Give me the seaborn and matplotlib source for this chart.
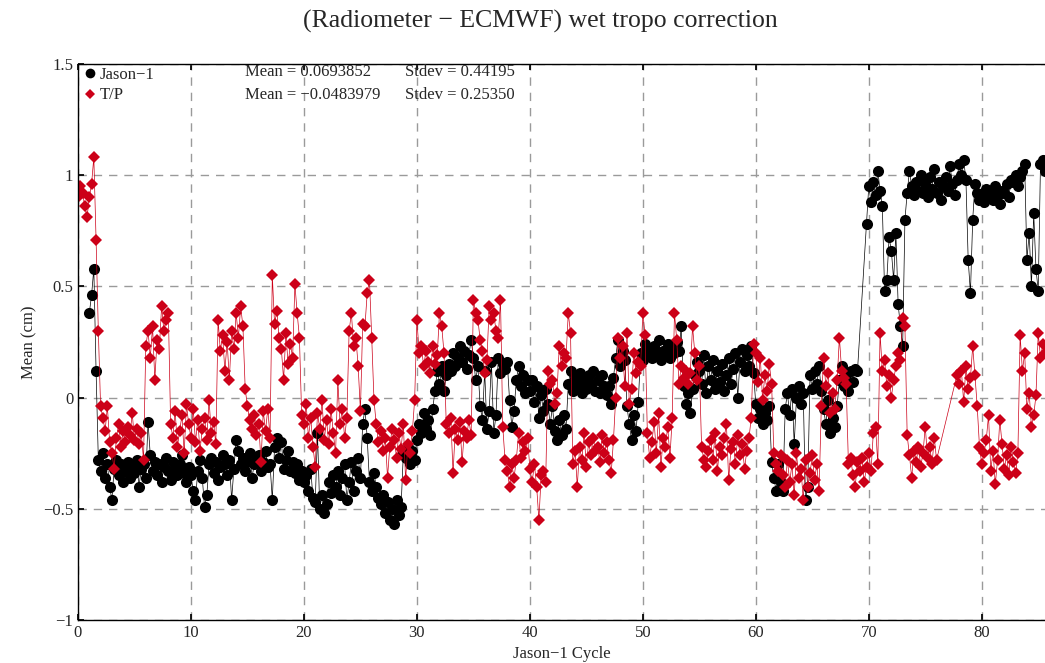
import numpy as np
import pandas as pd
import seaborn as sns
from matplotlib import pyplot as plt
from matplotlib.lines import Line2D
from matplotlib.ticker import MultipleLocator, FuncFormatter

# values, 5 samples per cycle (cycle + 0.0, 0.2, 0.4, 0.6, 0.8)
step = 0.2
jason_first_cycle = 1.0
jason_mean = [
    0.38, 0.46, 0.58, 0.12, -0.28,      # 1
    -0.33, -0.25, -0.36, -0.30, -0.40,  # 2
    -0.46, -0.32, -0.28, -0.35, -0.30,  # 3
    -0.38, -0.33, -0.29, -0.36, -0.31,  # 4
    -0.34, -0.28, -0.40, -0.32, -0.30,  # 5
    -0.36, -0.11, -0.26, -0.33, -0.29,  # 6
    -0.35, -0.30, -0.38, -0.31, -0.27,  # 7
    -0.33, -0.37, -0.29, -0.32, -0.35,  # 8
    -0.30, -0.26, -0.34, -0.38, -0.31,  # 9
    -0.35, -0.42, -0.46, -0.33, -0.28,  # 10
    -0.36, -0.49, -0.44, -0.30, -0.27,  # 11
    -0.34, -0.29, -0.37, -0.31, -0.26,  # 12
    -0.30, -0.35, -0.28, -0.46, -0.32,  # 13
    -0.19, -0.24, -0.30, -0.27, -0.33,  # 14
    -0.29, -0.25, -0.36, -0.30, -0.28,  # 15
    -0.26, -0.33, -0.29, -0.24, -0.31,  # 16
    -0.30, -0.46, -0.22, -0.18, -0.27,  # 17
    -0.20, -0.32, -0.28, -0.24, -0.33,  # 18
    -0.29, -0.34, -0.30, -0.37, -0.33,  # 19
    -0.38, -0.35, -0.42, -0.32, -0.45,  # 20
    -0.47, -0.16, -0.50, -0.44, -0.52,  # 21
    -0.48, -0.38, -0.43, -0.35, -0.40,  # 22
    -0.33, -0.44, -0.36, -0.30, -0.46,  # 23
    -0.38, -0.29, -0.42, -0.33, -0.27,  # 24
    -0.36, -0.12, -0.05, -0.18, -0.38,  # 25
    -0.42, -0.34, -0.40, -0.45, -0.48,  # 26
    -0.44, -0.52, -0.47, -0.55, -0.50,  # 27
    -0.57, -0.46, -0.53, -0.49, -0.25,  # 28
    -0.27, -0.22, -0.30, -0.24, -0.28,  # 29
    -0.19, -0.12, -0.16, -0.07, -0.14,  # 30
    -0.10, -0.17, -0.05, 0.03, 0.12,    # 31
    0.06, 0.14, 0.03, 0.10, 0.15,       # 32
    0.12, 0.20, 0.14, 0.18, 0.23,       # 33
    0.16, 0.21, 0.13, 0.19, 0.26,       # 34
    0.18, 0.08, 0.14, -0.04, -0.10,     # 35
    0.12, -0.14, -0.06, 0.16, -0.16,    # 36
    -0.08, 0.18, 0.11, 0.15, 0.13,      # 37
    0.16, -0.01, -0.13, -0.06, 0.08,    # 38
    0.14, 0.05, 0.10, 0.02, 0.08,       # 39
    0.03, 0.08, -0.02, 0.05, -0.09,     # 40
    0.01, -0.06, 0.04, -0.03, -0.12,    # 41
    -0.04, -0.15, -0.19, -0.10, -0.17,  # 42
    -0.08, -0.14, 0.06, 0.12, 0.03,     # 43
    0.09, 0.05, 0.11, 0.02, 0.07,       # 44
    0.04, 0.10, 0.06, 0.12, 0.03,       # 45
    0.08, 0.02, 0.10, 0.05, 0.01,       # 46
    0.05, -0.03, 0.09, 0.18, 0.26,      # 47
    0.14, 0.21, 0.17, -0.04, -0.12,     # 48
    -0.19, -0.08, -0.15, -0.02, 0.20,   # 49
    0.17, 0.24, 0.19, 0.22, 0.18,       # 50
    0.23, 0.20, 0.26, 0.17, 0.21,       # 51
    0.19, 0.24, 0.18, 0.22, 0.20,       # 52
    0.25, 0.21, 0.32, 0.05, -0.03,      # 53
    0.02, -0.07, 0.04, 0.10, 0.16,      # 54
    0.12, 0.06, 0.19, 0.02, 0.14,       # 55
    0.08, 0.17, 0.04, 0.12, 0.07,       # 56
    0.15, 0.03, 0.10, 0.18, 0.06,       # 57
    0.13, 0.20, 0.00, 0.16, 0.22,       # 58
    0.12, 0.19, 0.14, 0.23, 0.11,       # 59
    -0.03, -0.09, -0.05, -0.12, -0.07,  # 60
    -0.10, -0.04, -0.29, -0.36, -0.42,  # 61
    -0.30, -0.38, -0.42, -0.05, 0.02,   # 62
    -0.08, 0.04, -0.21, 0.00, 0.05,     # 63
    -0.03, 0.02, -0.46, -0.40, 0.10,    # 64
    0.04, 0.12, 0.06, 0.14, 0.03,       # 65
    -0.05, -0.12, -0.01, -0.16, -0.09,  # 66
    -0.13, -0.04, 0.08, 0.14, 0.05,     # 67
    0.10, 0.03, 0.12, 0.07, 0.13,       # 68
    0.12, np.nan, np.nan, np.nan, 0.78, # 69
    0.95, 0.88, 0.97, 0.91, 1.02,       # 70
    0.93, 0.86, 0.48, 0.53, 0.72,       # 71
    0.66, 0.53, 0.74, 0.42, 0.32,       # 72
    0.23, 0.80, 0.92, 1.02, 0.95,       # 73
    0.91, 0.97, 0.93, 1.00, 0.92,       # 74
    0.96, 0.90, 0.99, 0.94, 1.03,       # 75
    0.92, 0.97, 0.89, 0.95, 0.99,       # 76
    0.93, 1.04, 0.96, 0.91, 0.98,       # 77
    1.05, 1.00, 1.07, 0.98, 0.62,       # 78
    0.47, 0.80, 0.96, 0.92, 0.89,       # 79
    0.91, 0.88, 0.94, 0.90, 0.93,       # 80
    0.89, 0.95, 0.91, 0.87, 0.93,       # 81
    0.92, 0.96, 0.90, 0.98, 0.97,       # 82
    1.00, 0.95, 0.99, 1.02, 1.05,       # 83
    0.62, 0.74, 0.50, 0.83, 0.58,       # 84
    0.48, 1.05, 1.07, 1.02,             # 85
]

tp_first_cycle = 0.0
tp_mean = [
    0.90, 0.95, 0.92, 0.86, 0.81,       # 0
    0.90, 0.96, 1.08, 0.71, 0.30,       # 1
    -0.04, -0.09, -0.15, -0.04, -0.20,  # 2
    -0.25, -0.32, -0.18, -0.12, -0.22,  # 3
    -0.15, -0.20, -0.13, -0.17, -0.07,  # 4
    -0.19, -0.14, -0.21, -0.16, -0.28,  # 5
    0.23, 0.30, 0.18, 0.32, 0.08,       # 6
    0.26, 0.22, 0.41, 0.30, 0.35,       # 7
    0.38, -0.12, -0.18, -0.06, -0.22,   # 8
    -0.15, -0.08, -0.25, -0.03, -0.12,  # 9
    -0.18, -0.05, -0.20, -0.10, -0.24,  # 10
    -0.14, -0.09, -0.19, -0.01, -0.16,  # 11
    -0.11, -0.21, 0.35, 0.21, 0.28,     # 12
    0.12, 0.25, 0.08, 0.30, 0.22,       # 13
    0.38, 0.27, 0.41, 0.32, 0.04,       # 14
    -0.04, -0.10, -0.14, -0.08, -0.17,  # 15
    -0.12, -0.29, -0.06, -0.15, -0.05,  # 16
    -0.18, 0.55, 0.33, 0.39, 0.27,      # 17
    0.22, 0.08, 0.29, 0.15, 0.24,       # 18
    0.18, 0.51, 0.38, 0.27, -0.08,      # 19
    -0.12, -0.03, -0.18, -0.09, -0.22,  # 20
    -0.31, -0.07, -0.14, -0.01, -0.19,  # 21
    -0.10, -0.21, -0.05, -0.16, -0.25,  # 22
    0.08, -0.12, -0.05, -0.18, -0.09,   # 23
    0.30, 0.38, 0.23, 0.27, 0.14,       # 24
    -0.06, 0.33, 0.32, 0.47, 0.53,      # 25
    0.27, -0.01, -0.12, -0.20, -0.15,   # 26
    -0.24, -0.18, -0.36, -0.22, -0.14,  # 27
    -0.19, -0.27, -0.16, -0.23, -0.12,  # 28
    -0.37, -0.21, -0.25, -0.15, -0.01,  # 29
    0.35, 0.20, 0.23, 0.14, 0.21,       # 30
    0.16, 0.11, 0.23, 0.15, 0.19,       # 31
    0.38, 0.32, 0.20, -0.12, -0.16,     # 32
    -0.09, -0.34, -0.14, -0.19, -0.11,  # 33
    -0.29, -0.15, -0.18, -0.10, -0.17,  # 34
    0.44, 0.38, 0.35, 0.26, 0.21,       # 35
    0.11, 0.17, 0.41, 0.35, 0.38,       # 36
    0.30, 0.27, 0.44, -0.13, -0.28,     # 37
    -0.33, -0.40, -0.30, -0.36, -0.28,  # 38
    -0.16, -0.27, -0.20, -0.24, -0.18,  # 39
    -0.32, -0.38, -0.30, -0.40, -0.55,  # 40
    -0.35, -0.33, -0.38, 0.12, 0.06,    # 41
    0.08, -0.03, 0.02, 0.23, 0.14,      # 42
    0.20, 0.18, 0.38, 0.29, -0.30,      # 43
    -0.24, -0.40, -0.22, -0.28, -0.16,  # 44
    -0.31, -0.20, -0.26, -0.18, -0.24,  # 45
    -0.22, -0.29, -0.17, -0.25, -0.20,  # 46
    -0.28, -0.34, -0.19, 0.00, 0.27,    # 47
    0.18, 0.23, 0.05, 0.29, -0.03,      # 48
    0.04, 0.20, 0.11, 0.16, 0.14,       # 49
    0.38, 0.28, -0.16, -0.27, -0.20,    # 50
    -0.11, -0.25, -0.07, -0.31, -0.18,  # 51
    -0.22, -0.13, -0.27, -0.09, 0.38,   # 52
    0.26, 0.06, 0.14, 0.09, 0.12,       # 53
    0.06, 0.11, 0.32, 0.20, 0.08,       # 54
    0.14, -0.22, -0.28, -0.31, -0.24,   # 55
    -0.19, -0.28, -0.16, -0.33, -0.22,  # 56
    -0.26, -0.18, -0.12, -0.37, -0.23,  # 57
    -0.20, -0.30, -0.17, -0.26, -0.21,  # 58
    -0.32, -0.24, -0.18, -0.09, 0.24,   # 59
    0.20, 0.07, 0.18, -0.01, 0.10,      # 60
    0.03, 0.15, 0.06, -0.25, -0.30,     # 61
    -0.33, -0.26, -0.35, -0.40, -0.28,  # 62
    -0.38, -0.30, -0.44, -0.25, -0.36,  # 63
    -0.32, -0.46, -0.28, -0.40, -0.34,  # 64
    -0.26, -0.37, -0.30, -0.42, -0.04,  # 65
    0.18, 0.05, 0.11, -0.07, 0.02,      # 66
    -0.05, 0.08, 0.27, 0.12, 0.09,      # 67
    0.06, -0.30, -0.27, -0.35, -0.40,   # 68
    -0.29, -0.33, -0.27, -0.38, -0.31,  # 69
    -0.25, -0.33, -0.16, -0.13, -0.30,  # 70
    0.29, 0.12, 0.17, 0.05, 0.10,       # 71
    0.00, 0.08, 0.14, 0.20, 0.17,       # 72
    0.36, 0.32, -0.17, -0.26, -0.36,    # 73
    -0.24, -0.29, -0.22, -0.31, -0.25,  # 74
    -0.13, -0.27, -0.22, -0.30, -0.18,  # 75
    -0.28, np.nan, np.nan, np.nan, np.nan,  # 76
    np.nan, np.nan, np.nan, np.nan, 0.10,   # 77
    0.06, 0.12, -0.02, 0.14, 0.04,      # 78
    0.09, 0.23, 0.10, -0.04, -0.22,     # 79
    -0.30, -0.25, -0.19, -0.08, -0.33,  # 80
    -0.24, -0.39, -0.28, -0.10, -0.21,  # 81
    -0.32, -0.26, -0.35, -0.22, -0.29,  # 82
    -0.34, -0.25, 0.28, 0.12, 0.20,     # 83
    -0.05, 0.02, -0.13, -0.08, 0.01,    # 84
    0.29, 0.18, 0.24, 0.20,             # 85
]

missions = ["Jason−1", "T/P"]
stats_text = ["Mean = 0.0693852", "Mean = −0.0483979"]
stdev_text = ["Stdev = 0.44195", "Stdev = 0.25350"]
colors = {"Jason−1": "black", "T/P": "#cc0018"}

jason_df = pd.DataFrame({
    "cycle": jason_first_cycle + step * np.arange(len(jason_mean)),
    "mean": jason_mean, "mission": missions[0]})
tp_df = pd.DataFrame({
    "cycle": tp_first_cycle + step * np.arange(len(tp_mean)),
    "mean": tp_mean, "mission": missions[1]})
df = pd.concat([jason_df, tp_df], ignore_index=True).dropna()

sns.set_theme(style="white")
plt.rcParams["font.family"] = ["Liberation Serif", "DejaVu Serif"]
plt.rcParams["axes.unicode_minus"] = True

W, H = 1045, 663
fig = plt.figure(figsize=(W / 100, H / 100), dpi=100)
ax = fig.add_axes([78 / W, 1 - 620 / H, 1 - 78 / W, (620 - 64) / H])

sns.lineplot(data=df, x="cycle", y="mean", hue="mission", style="mission",
             markers={"Jason−1": "o", "T/P": "D"}, dashes=False,
             palette=colors, estimator=None, sort=False, linewidth=0.5,
             markersize=8, markeredgewidth=0, legend=False, ax=ax)
# diamonds a bit smaller than circles
ax.lines[1].set_markersize(6)

ax.set_xlim(0, 85.6)
ax.set_ylim(-1, 1.5)
ax.xaxis.set_major_locator(MultipleLocator(10))
ax.yaxis.set_major_locator(MultipleLocator(0.5))
ax.yaxis.set_major_formatter(FuncFormatter(lambda v, p: f"{v:g}".replace("-", "−")))
ax.tick_params(labelsize=12, direction="in", length=4, color="black",
               left=True, bottom=True, top=True, right=False)
ax.grid(True, color="#9a9a9a", linestyle=(0, (6, 5)), linewidth=1)
ax.set_axisbelow(True)
for side in ["left", "bottom", "top"]:
    ax.spines[side].set_color("black")
    ax.spines[side].set_linewidth(1)
ax.spines["right"].set_visible(False)

ax.set_xlabel("Jason−1 Cycle", fontsize=12)
ax.set_ylabel("Mean (cm)", fontsize=12)
fig.text(540 / W, 1 - 21 / H, "(Radiometer − ECMWF) wet tropo correction",
         ha="center", va="center", fontsize=18.5)

handles = [Line2D([], [], marker="o", color=colors[missions[0]], linestyle="none",
                  markersize=7, markeredgewidth=0),
           Line2D([], [], marker="D", color=colors[missions[1]], linestyle="none",
                  markersize=5, markeredgewidth=0)]
ax.legend(handles, missions, loc="upper left", frameon=False, fontsize=12,
          handletextpad=0.1, handlelength=1.0, borderaxespad=0.1,
          borderpad=0.1, labelspacing=0.25)

for i in range(2):
    fig.text(245 / W, 1 - (72 + 23 * i) / H, stats_text[i], fontsize=12, va="center")
    fig.text(405 / W, 1 - (72 + 23 * i) / H, stdev_text[i], fontsize=12, va="center")

fig.savefig("out.png", dpi=100)
